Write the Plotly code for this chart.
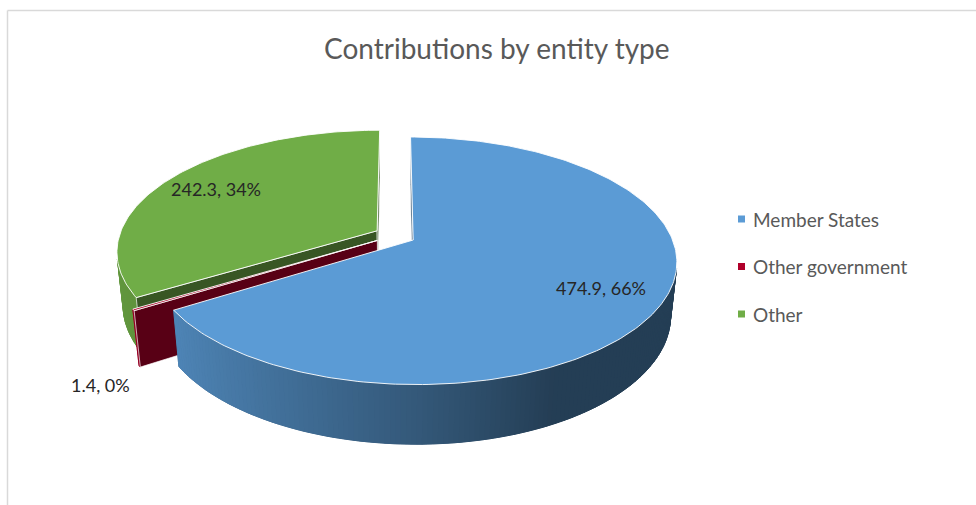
import numpy as np
import plotly.graph_objects as go

# ---- data -------------------------------------------------------------
categories = ["Member States", "Other government", "Other"]
values = [474.9, 1.4, 242.3]
slice_colors = ["#5b9bd5", "#b0002a", "#70ad47"]
title_text = "Contributions by entity type"

# ---- canvas and 3-D pie projection settings ---------------------------
W, H = 976, 505
CX, CY = 395.0, 235.4          # screen position of the pie centre
FX, FY = 1361.0, 1320.0        # focal lengths (px)
CAM_DIST = 5.28                # camera distance, in pie radii
ELEV = np.arccos(0.88)         # camera elevation
THICK = 0.245                  # pie thickness, in pie radii
EXPLODE = 0.08                 # slice explosion, in pie radii
LABEL_R = 0.77                 # radius of inside labels
OUTSIDE_SHARE = 0.05           # smaller slices get their label outside

FONT = "Lato, 'Open Sans', sans-serif"
TEXT_GREY = "#595959"
LABEL_COLOR = "#262626"

cos_e, sin_e = np.cos(ELEV), np.sin(ELEV)
cam = np.array([0.0, -CAM_DIST * cos_e, CAM_DIST * sin_e])


def project(x, y, z):
    x = np.asarray(x, float)
    y = np.asarray(y, float)
    z = np.asarray(z, float)
    depth = y * cos_e - z * sin_e + CAM_DIST
    up = y * sin_e + z * cos_e
    return CX + FX * x / depth, CY - FY * up / depth


def hex_rgb(h):
    h = h.lstrip("#")
    return [int(h[i:i + 2], 16) for i in (0, 2, 4)]


def shade(rgb, f):
    return "rgb(%d,%d,%d)" % tuple(int(round(min(255, c * f))) for c in rgb)


def side_factor(s):
    # darker as the outer wall turns to the right
    return float(np.interp(s, [-1, -0.84, 0, 0.45, 1], [0.88, 0.85, 0.57, 0.40, 0.40]))


fig = go.Figure()


def poly(xs, ys, fill, line_color=None, line_width=0.0):
    xs = list(xs) + [xs[0]]
    ys = list(ys) + [ys[0]]
    fig.add_trace(go.Scatter(
        x=xs, y=ys, mode="lines", fill="toself", fillcolor=fill,
        line=dict(color=line_color or fill, width=line_width),
        hoverinfo="skip", showlegend=False))


total = float(sum(values))
edges = np.concatenate([[0.0], np.cumsum(values)]) / total * 2 * np.pi

# painter's order: slices far from the front point first, the slice that
# holds the front point (angle pi) last
def draw_key(i):
    t0, t1 = edges[i], edges[i + 1]
    if t0 <= np.pi <= t1:
        return -1.0
    tm = 0.5 * (t0 + t1)
    return abs(tm - np.pi)

order = sorted(range(len(values)), key=draw_key, reverse=True)

annotations = []

for i in order:
    t0, t1 = edges[i], edges[i + 1]
    tm = 0.5 * (t0 + t1)
    ox, oy = EXPLODE * np.sin(tm), EXPLODE * np.cos(tm)
    base = hex_rgb(slice_colors[i])

    # outer wall: visible segments, drawn over a single underlay polygon
    n_arc = max(2, int(np.degrees(t1 - t0)) + 2)
    arc = np.linspace(t0, t1, n_arc)
    rx, ry = ox + np.sin(arc), oy + np.cos(arc)
    vis = []
    for k in range(n_arc - 1):
        m = 0.5 * (arc[k] + arc[k + 1])
        normal = np.array([np.sin(m), np.cos(m), 0.0])
        p = np.array([ox + np.sin(m), oy + np.cos(m), -THICK / 2])
        if normal @ (cam - p) > 0:
            vis.append(k)
    if vis:
        ka, kb = vis[0], vis[-1] + 1
        tx, ty = project(rx[ka:kb + 1], ry[ka:kb + 1], np.zeros(kb - ka + 1))
        bx, by = project(rx[ka:kb + 1], ry[ka:kb + 1],
                         np.full(kb - ka + 1, -THICK))
        mid_col = shade(base, side_factor(np.sin(0.5 * (arc[ka] + arc[kb]))))
        poly(np.concatenate([tx, bx[::-1]]), np.concatenate([ty, by[::-1]]),
             mid_col, mid_col, 0.5)
    for k in vis:
        m = 0.5 * (arc[k] + arc[k + 1])
        tx, ty = project(rx[k:k + 2], ry[k:k + 2], [0, 0])
        bx, by = project(rx[k:k + 2], ry[k:k + 2], [-THICK, -THICK])
        col = shade(base, side_factor(np.sin(m)))
        poly([tx[0], tx[1], bx[1], bx[0]], [ty[0], ty[1], by[1], by[0]], col,
             col, 1.0)

    # radial cut faces
    for th, sgn in ((t0, -1.0), (t1, 1.0)):
        normal = sgn * np.array([np.cos(th), -np.sin(th), 0.0])
        p = np.array([ox + 0.5 * np.sin(th), oy + 0.5 * np.cos(th), -THICK / 2])
        if normal @ (cam - p) <= 1e-9:
            continue
        fx_ = [ox, ox + np.sin(th), ox + np.sin(th), ox]
        fy_ = [oy, oy + np.cos(th), oy + np.cos(th), oy]
        fz_ = [0, 0, -THICK, -THICK]
        px, py = project(fx_, fy_, fz_)
        poly(px, py, shade(base, 0.5), "rgba(255,255,255,0.85)", 0.8)

    # top face
    tx, ty = project(np.concatenate([[ox], rx]), np.concatenate([[oy], ry]),
                     np.zeros(n_arc + 1))
    poly(tx, ty, slice_colors[i], "rgba(255,255,255,0.9)", 1.0)

    # data label
    share = values[i] / total
    text = "%s, %d%%" % (values[i], round(share * 100))
    if share >= OUTSIDE_SHARE:
        lx, ly = project(ox + LABEL_R * np.sin(tm), oy + LABEL_R * np.cos(tm), 0)
        annotations.append(dict(x=float(lx), y=float(ly), text=text,
                                showarrow=False, xanchor="center",
                                yanchor="middle",
                                font=dict(family=FONT, size=18,
                                          color=LABEL_COLOR)))
    else:
        lx, ly = project(ox + np.sin(tm), oy + np.cos(tm), -THICK)
        left = float(lx) < CX
        annotations.append(dict(x=float(lx), y=float(ly), text=text,
                                showarrow=False,
                                xanchor="right" if left else "left",
                                yanchor="top", xshift=-8 if left else 8,
                                yshift=-6,
                                font=dict(family=FONT, size=18,
                                          color=LABEL_COLOR)))

# legend (marker squares + labels)
LEG_X, LEG_Y0, LEG_DY = 741.5, 219.0, 47.5
leg_y = [LEG_Y0 + LEG_DY * k for k in range(len(categories))]
fig.add_trace(go.Scatter(
    x=[LEG_X] * len(categories), y=leg_y, mode="markers",
    marker=dict(symbol="square", size=7, color=slice_colors,
                line=dict(width=0)),
    hoverinfo="skip", showlegend=False))
for name, y in zip(categories, leg_y):
    annotations.append(dict(x=LEG_X + 9, y=y, text=name, showarrow=False,
                            xanchor="left", yanchor="middle",
                            font=dict(family=FONT, size=19, color=TEXT_GREY)))

# title
annotations.append(dict(x=497, y=48, text=title_text, showarrow=False,
                        xanchor="center", yanchor="middle",
                        font=dict(family=FONT, size=28, color=TEXT_GREY)))

# chart-area border (top and left edges)
shapes = [
    dict(type="line", xref="x", yref="y", x0=7.5, y0=10.5, x1=W + 5, y1=10.5,
         line=dict(color="#d9d9d9", width=1.5)),
    dict(type="line", xref="x", yref="y", x0=7.5, y0=10.5, x1=7.5, y1=H + 5,
         line=dict(color="#d9d9d9", width=1.5)),
]

fig.update_layout(
    width=W, height=H, margin=dict(l=0, r=0, t=0, b=0),
    paper_bgcolor="white", plot_bgcolor="white",
    xaxis=dict(range=[0, W], visible=False, fixedrange=True),
    yaxis=dict(range=[H, 0], visible=False, fixedrange=True),
    showlegend=False, annotations=annotations, shapes=shapes,
)

fig.write_html("out.html")
